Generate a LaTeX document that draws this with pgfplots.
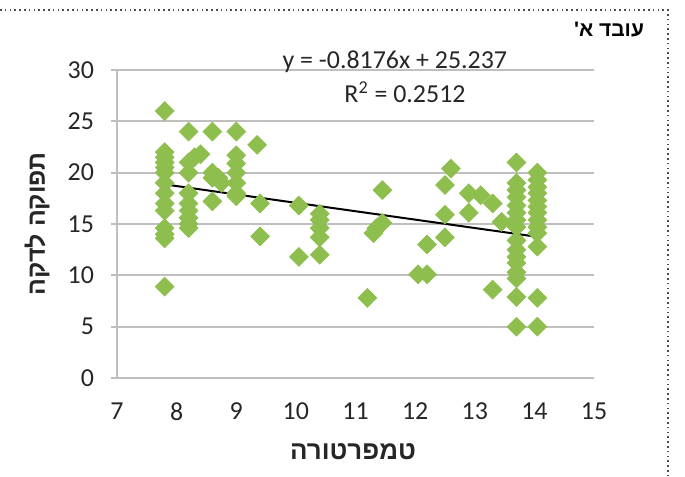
\documentclass[border=0pt]{standalone}
\usepackage{fontspec}
\setmainfont{Carlito}
\newfontfamily\hebfont[Script=Hebrew]{Liberation Sans}
\TeXXeTstate=1
\usepackage{pgfplots}
\pgfplotsset{compat=1.18}
\definecolor{mk}{HTML}{8DBE4E}
\definecolor{gr}{HTML}{BFBFBF}
\definecolor{tx}{HTML}{262626}

\pgfplotstableread{
x y
7.8 26
7.8 22
7.8 21.5
7.8 21
7.8 20.5
7.8 20
7.8 19
7.8 18
7.8 17
7.8 16.3
7.8 14.6
7.8 14
7.8 13.6
7.8 8.9
8.2 24
8.2 21
8.2 20
8.2 18
8.2 17
8.2 16.3
8.2 15.6
8.2 15
8.2 14.6
8.3 21.5
8.4 21.8
8.6 24
8.6 20
8.6 19.5
8.6 17.2
8.7 19.5
8.75 19
9.0 24
9.0 21.7
9.0 20.9
9.0 20
9.0 19
9.0 18
9.0 17.7
9.35 22.7
9.4 17
9.4 13.8
10.05 16.8
10.05 11.8
10.4 16
10.4 15.4
10.4 14.6
10.4 13.7
10.4 12.0
11.2 7.8
11.3 14.1
11.35 14.6
11.45 18.3
11.45 15.1
12.05 10.1
12.2 10.1
12.2 13.0
12.5 18.8
12.6 20.4
12.5 15.9
12.5 13.7
12.9 18
12.9 16.1
13.1 17.8
13.3 17
13.3 8.6
13.45 15.2
13.7 21
13.7 19
13.7 18.3
13.7 17.6
13.7 16.8
13.7 16.1
13.7 15.4
13.7 14.7
13.7 13.4
13.7 12.5
13.7 11.8
13.7 11.2
13.7 10.3
13.7 9.7
13.7 7.9
13.7 5
14.05 20
14.05 19.3
14.05 18.6
14.05 18
14.05 17.3
14.05 16.7
14.05 16.1
14.05 15.4
14.05 14.7
14.05 14.1
14.05 12.8
14.05 7.8
14.05 5
}\pts

\begin{document}
\begin{tikzpicture}
\begin{axis}[
  at={(58.5bp,49.5bp)}, anchor=south west,
  scale only axis, width=238.5bp, height=154bp,
  xmin=7, xmax=15, ymin=0, ymax=30,
  xtick={7,8,...,15}, ytick={0,5,...,30},
  axis x line*=bottom, axis y line*=left,
  x axis line style={draw=none},
  y axis line style={gr, line width=1bp, -},
  ymajorgrids, major grid style={gr, line width=1bp},
  xtick style={draw=none}, ytick style={gr, line width=1bp},
  tick align=outside, major tick length=3bp,
  ticklabel style={font=\fontsize{13}{15}\selectfont, text=tx},
  yticklabel style={xshift=-5bp},
  xticklabel style={yshift=-6bp},
  /pgf/number format/assume math mode=true,
  clip=false,
]
\addplot[only marks, mark=square*, mark size=3.3bp,
  mark options={rotate=45, fill=mk, draw=mk}] table[x=x,y=y] {\pts};
\addplot[black, line width=1bp] coordinates {(7.8,18.86) (14.05,13.75)};
\node[font=\fontsize{13}{15}\selectfont, text=tx] at (axis cs:11.66,30.8) {y = -0.8176x + 25.237};
\node[font=\fontsize{13}{15}\selectfont, text=tx] at (axis cs:11.83,27.85) {R\textsuperscript{2} = 0.2512};
\end{axis}
\node[font=\hebfont\bfseries\fontsize{13}{15}\selectfont, text=tx] at (176.5bp,12.5bp) {\beginR טמפרטורה\endR};
\node[rotate=90, font=\hebfont\bfseries\fontsize{12.5}{15}\selectfont, text=tx] at (18.5bp,126.5bp) {\beginR תפוקה לדקה\endR};
\node[anchor=east, font=\hebfont\bfseries\fontsize{10.5}{12}\selectfont, text=black] at (325.5bp,223.5bp) {\beginR עובד א'\endR};
\draw[black!70, line width=0.8bp, dash pattern=on 0.8bp off 1.6bp] (0,233.5bp) -- (334bp,233.5bp) -- (334bp,0);
\pgfresetboundingbox
\useasboundingbox (0,0) rectangle (342.5bp,238.5bp);
\end{tikzpicture}
\end{document}
